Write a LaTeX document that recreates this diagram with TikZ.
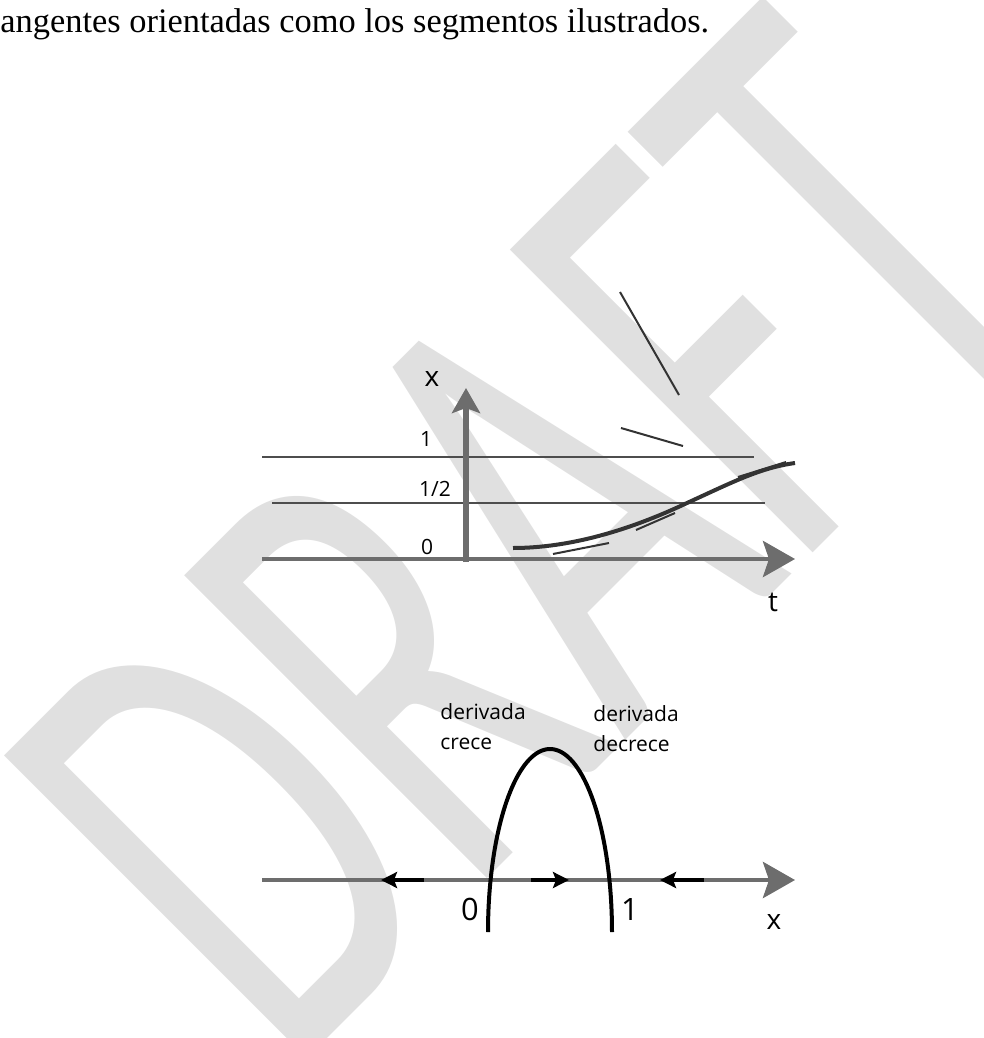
\documentclass[tikz,border=0pt]{standalone}
\usepackage{fontspec}
\setmainfont{Open Sans}
\newfontfamily\bodyfont{Liberation Serif}
\newfontfamily\markfont{Carlito}
\usetikzlibrary{arrows.meta}
\definecolor{axisgray}{HTML}{6D6D6D}
\definecolor{levelgray}{HTML}{4D4D4D}
\definecolor{curvegray}{HTML}{333333}
\definecolor{markgray}{HTML}{E0E0E0}
\tikzset{
    axis/.style={draw=axisgray, line width=2.4pt},
    bigtip/.style={-{Stealth[length=16pt, width=18pt, inset=3pt]}},
    level/.style={draw=levelgray, line width=1pt},
    tangent/.style={draw=curvegray, line width=1pt},
    flow/.style={line width=2.3pt, -{Stealth[length=8pt, width=8pt, inset=1.5pt]}},
    lab/.style={inner sep=0pt, font=\fontsize{10.5}{15}\selectfont},
    biglab/.style={inner sep=0pt, font=\fontsize{14}{14}\selectfont},
}
\begin{document}
\begin{tikzpicture}[x=0.5pt, y=-0.5pt]
    \useasboundingbox (0,0) rectangle (984,1038);
    \begin{scope}
        \clip (0,0) rectangle (984,1038);
        \node[text=markgray, font=\markfont\fontsize{206}{206}\selectfont, inner sep=0pt,
              anchor=base west, rotate=45, yscale=1.62] (draft) at (287,1079) {DRAFT};
    \end{scope}

    \node[anchor=base west, inner sep=0pt, font=\bodyfont\fontsize{17.2}{20}\selectfont] (intro) at (0,33)
        {angentes orientadas como los segmentos ilustrados.};

    \draw[level] (262,457) -- (754,457);
    \draw[level] (272,503) -- (765,503);
    \draw[axis, bigtip] (262,559) -- (795,559);
    \draw[axis, line width=3.3pt, -{Stealth[length=12.5pt, width=14pt, inset=2.5pt]}] (466,562) -- (466,388);

    \draw[curvegray, line width=2pt] (513,548) .. controls (570,548) and (630,530) .. (687,503)
        .. controls (735,481) and (760,468) .. (795,463);
    \draw[tangent] (553,554) -- (609,543) (636,530) -- (675,513) (738,477) -- (786,462)
        (621,428) -- (683,446) (620,292) -- (679,395);

    \node[biglab] (xup) at (432,379) {x};
    \node[lab] (one) at (426,439) {1};
    \node[lab] (half) at (435,489) {1/2};
    \node[lab] (zero) at (427,547) {0};
    \node[biglab] (tlab) at (773,602) {t};

    \draw[axis, bigtip] (262,880) -- (795,880);
    \draw[flow] (424,880) -- (381,880);
    \draw[flow] (531,880) -- (569,880);
    \draw[flow] (704,880) -- (660,880);
    \draw[line width=2pt, domain=0:180, samples=80] plot ({550+62*cos(\x)}, {932-183*sin(\x)});

    \node[lab, anchor=north west, align=left] (crece) at (440,703) {derivada\\crece};
    \node[lab, anchor=north west, align=left] (decrece) at (593,705) {derivada\\decrece};
    \node[lab, font=\fontsize{15.4}{15.4}\selectfont] (zerob) at (470,909) {0};
    \node[lab, font=\fontsize{15.4}{15.4}\selectfont] (oneb) at (630,909) {1};
    \node[biglab] (xdown) at (774,922) {x};
\end{tikzpicture}
\end{document}
